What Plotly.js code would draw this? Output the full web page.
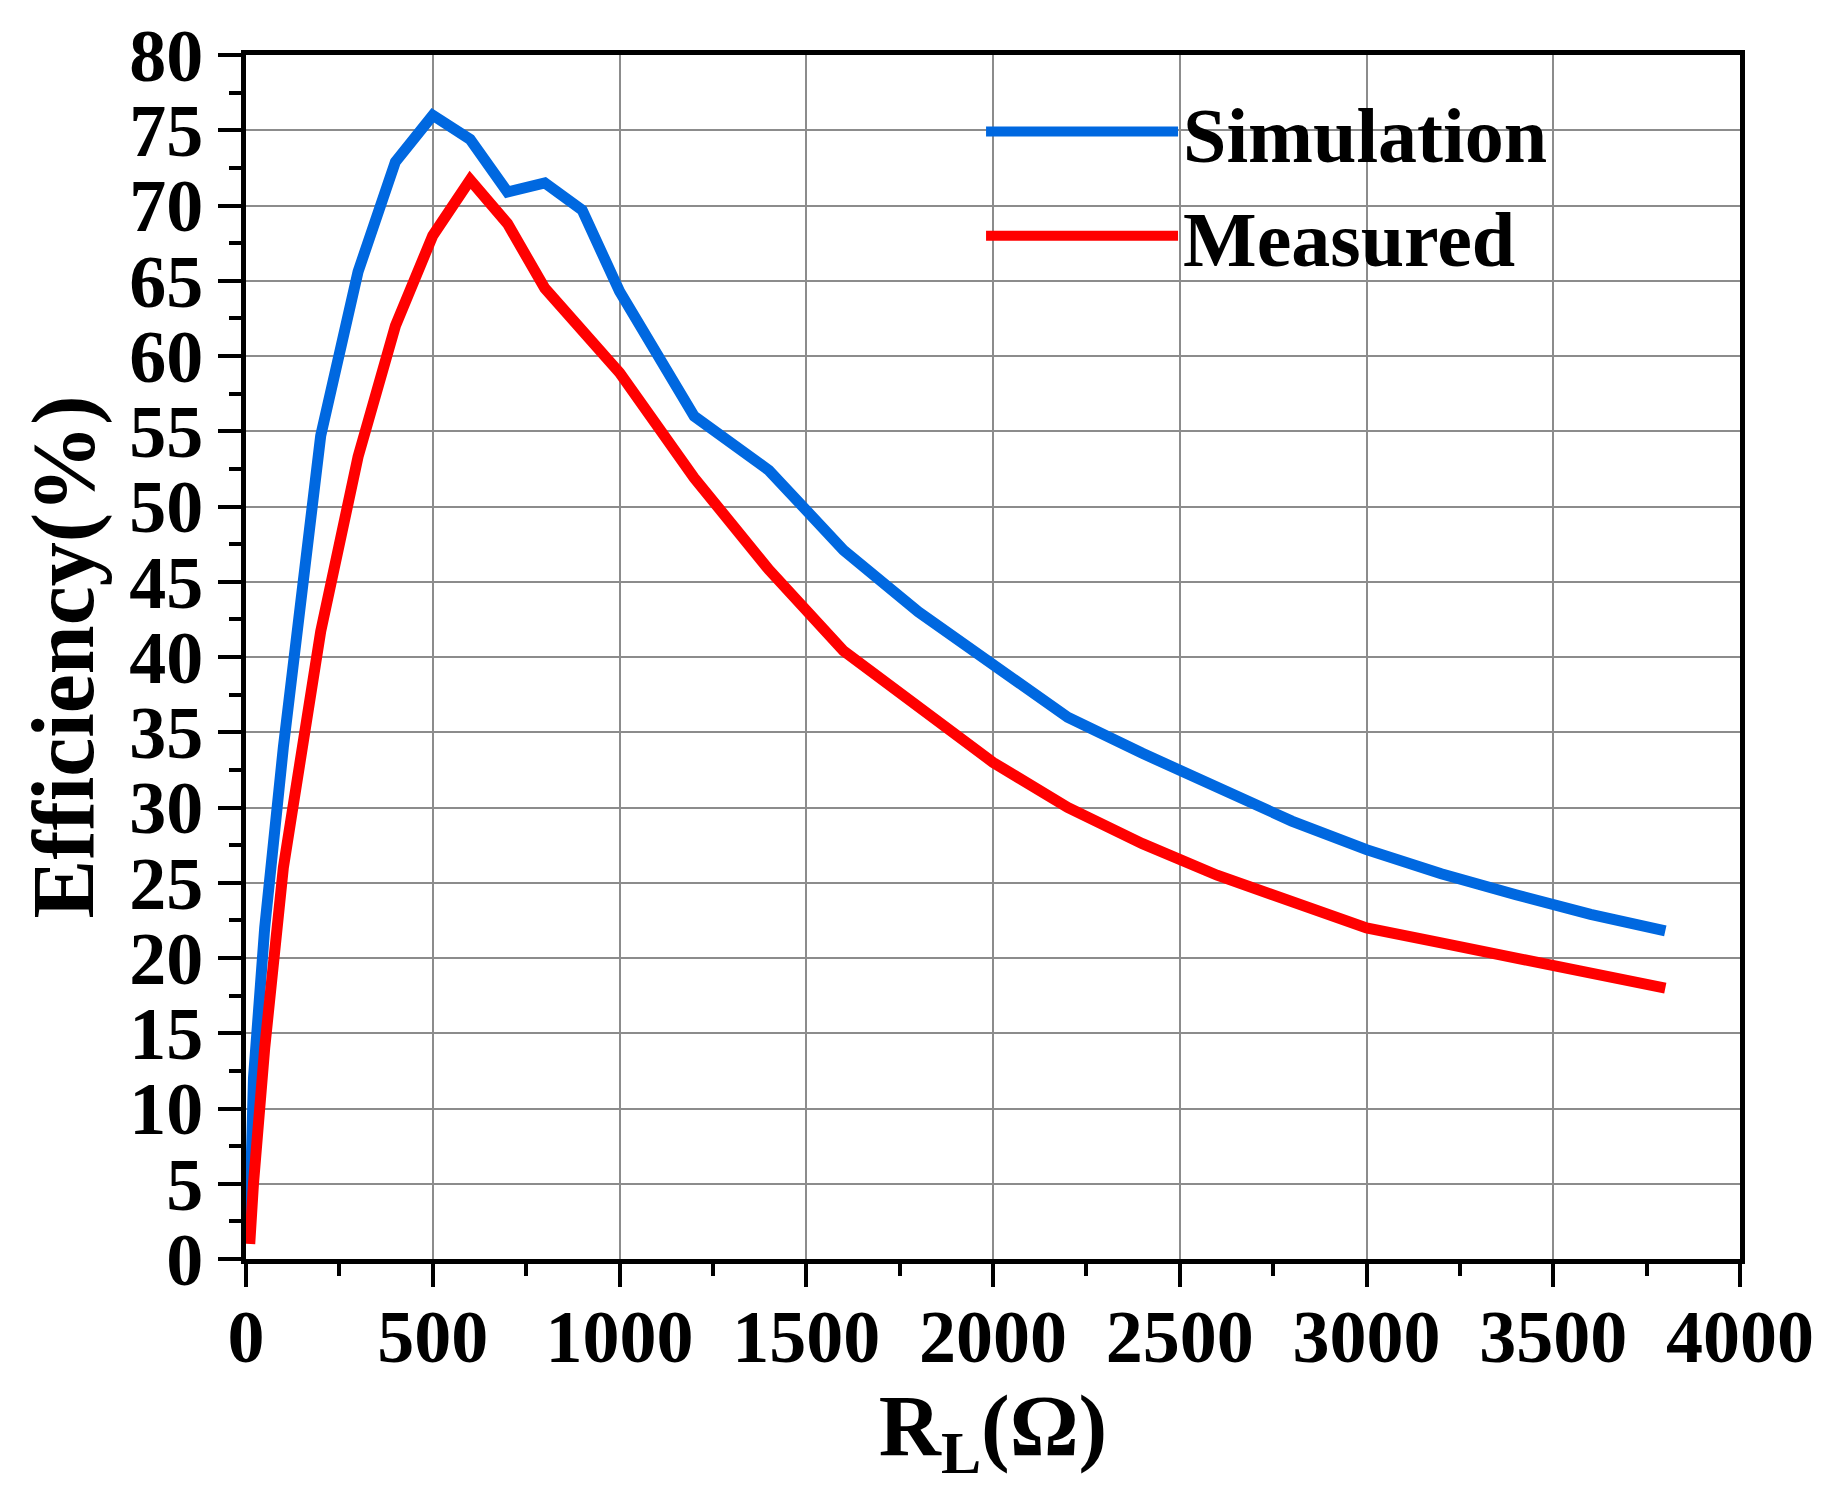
<!DOCTYPE html>
<html>
<head>
<meta charset="utf-8">
<script src="https://cdn.plot.ly/plotly-3.0.1.min.js"></script>
<style>
	html, body { margin: 0; padding: 0; background: #ffffff; }
	#chart { width: 1831px; height: 1501px; }
</style>
</head>
<body>
<div id="chart"></div>
<script>
// load resistance (ohm)
var rl = [10, 20, 50, 100, 200, 300, 400, 500, 600, 700, 800, 900, 1000,
          1200, 1400, 1600, 1800, 2000, 2200, 2400, 2600, 2800, 3000,
          3200, 3400, 3600, 3800];

// efficiency (%)
var simulation = [2.7, 12, 22, 34, 54.7, 65.6, 72.9, 76, 74.4, 70.9, 71.5, 69.7, 64.3,
                  56, 52.4, 47.1, 43, 39.5, 36, 33.6, 31.3, 29.1, 27.2,
                  25.6, 24.2, 22.9, 21.8];
var measured   = [1, 5, 14, 26, 41.7, 53.3, 62, 68, 71.7, 68.8, 64.5, 61.6, 58.9,
                  51.9, 45.8, 40.4, 36.8, 33, 30, 27.6, 25.5, 23.7, 22,
                  21, 20, 19, 18];

var xTicks = [0, 500, 1000, 1500, 2000, 2500, 3000, 3500, 4000];
var yTicks = [0, 5, 10, 15, 20, 25, 30, 35, 40, 45, 50, 55, 60, 65, 70, 75, 80];

var FONT = '"Liberation Serif", "Times New Roman", serif';

var traces = [
	{
		name: 'Simulation',
		mode: 'lines',
		x: rl,
		y: simulation,
		line: { color: '#0068E0', width: 11 }
	},
	{
		name: 'Measured',
		mode: 'lines',
		x: rl,
		y: measured,
		line: { color: '#FF0000', width: 11 }
	}
];

var axisCommon = {
	showline: true,
	linecolor: '#000000',
	linewidth: 5,
	mirror: true,
	ticks: 'outside',
	ticklen: 23,
	tickwidth: 4,
	tickcolor: '#000000',
	showgrid: true,
	gridcolor: '#8c8c8c',
	gridwidth: 2,
	zeroline: false,
	tickfont: { family: FONT, size: 74, color: '#000000', weight: 'bold' }
};

var layout = {
	width: 1831,
	height: 1501,
	margin: { l: 246, r: 91, t: 55, b: 242 },
	paper_bgcolor: '#ffffff',
	plot_bgcolor: '#ffffff',
	showlegend: true,
	legend: {
		x: 0.492,
		y: 0.984,
		xanchor: 'left',
		yanchor: 'top',
		bgcolor: 'rgba(0,0,0,0)',
		itemwidth: 192,
		font: { family: FONT, size: 78, color: '#000000', weight: 'bold' }
	},
	xaxis: Object.assign({}, axisCommon, {
		range: [0, 4000],
		tickmode: 'array',
		tickvals: xTicks,
		ticktext: xTicks.map(String),
		ticklabelstandoff: -14,
		minor: { dtick: 250, ticklen: 12, tickwidth: 4, tickcolor: '#000000', showgrid: false },
		title: {
			text: 'R<sub>L</sub>(Ω)',
			standoff: 18,
			font: { family: FONT, size: 86, color: '#000000', weight: 'bold' }
		}
	}),
	yaxis: Object.assign({}, axisCommon, {
		range: [0, 80],
		tickmode: 'array',
		tickvals: yTicks,
		ticktext: yTicks.map(String),
		minor: { dtick: 2.5, ticklen: 12, tickwidth: 4, tickcolor: '#000000', showgrid: false },
		title: {
			text: 'Efficiency(%)',
			standoff: 8,
			font: { family: FONT, size: 88, color: '#000000', weight: 'bold' }
		}
	})
};

Plotly.newPlot('chart', traces, layout, { staticPlot: true, displayModeBar: false });
</script>
</body>
</html>
